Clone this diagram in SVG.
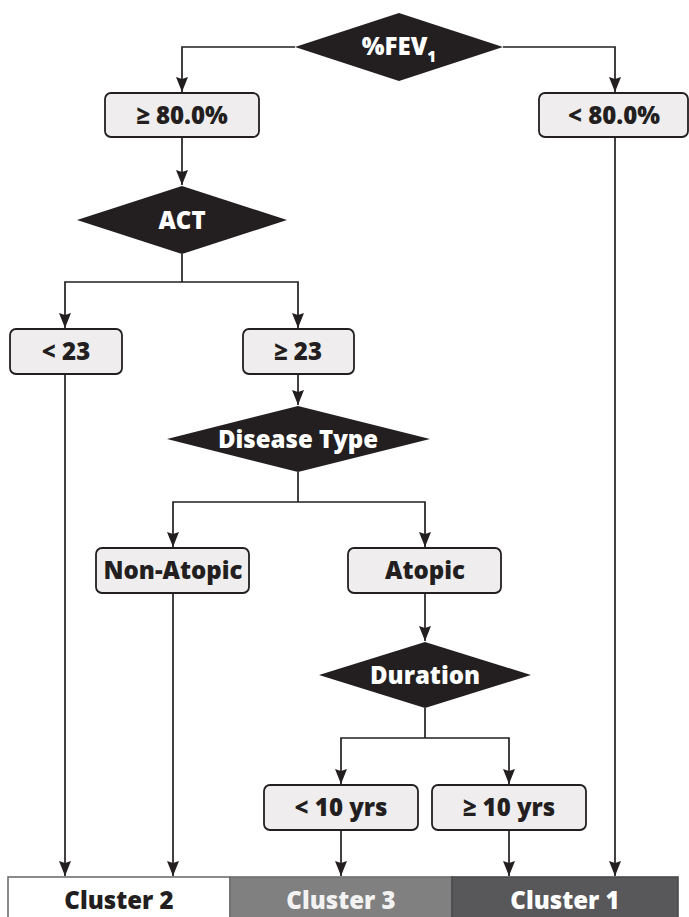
<svg xmlns="http://www.w3.org/2000/svg" width="689" height="917" viewBox="0 0 689 917">
<defs>
<marker id="arr" viewBox="0 0 12 15" refX="6" refY="15" markerWidth="12" markerHeight="15" markerUnits="userSpaceOnUse" orient="0">
<path d="M0,0 L6,2 L12,0 L6,15 Z" fill="#231f20"/>
</marker>
<style>
.dia{fill:#231f20}
.box{fill:#efedee;stroke:#231f20;stroke-width:1.8}
.lbl{font-family:"Open Sans","Noto Sans",sans-serif;font-weight:800;font-size:24px;text-anchor:middle;fill:#231f20}
.wl{fill:#ffffff}
.ln{fill:none;stroke:#231f20;stroke-width:1.7}
.ar{marker-end:url(#arr)}
</style>
</defs>
<g id="connectors">
<path class="ln ar" d="M295,47 H182 V92"/>
<path class="ln ar" d="M503,47 H615 V92"/>
<path class="ln ar" d="M182,137 V185"/>
<path class="ln" d="M182,254 V282"/>
<path class="ln ar" d="M182,282 H65 V328"/>
<path class="ln ar" d="M182,282 H298 V328"/>
<path class="ln ar" d="M298,374 V405"/>
<path class="ln" d="M298,472 V502"/>
<path class="ln ar" d="M298,502 H173 V547"/>
<path class="ln ar" d="M298,502 H425 V547"/>
<path class="ln ar" d="M425,593 V641"/>
<path class="ln" d="M425,708 V738"/>
<path class="ln ar" d="M425,738 H341 V784"/>
<path class="ln ar" d="M425,738 H509 V784"/>
<path class="ln ar" d="M341,830 V876"/>
<path class="ln ar" d="M509,830 V876"/>
<path class="ln ar" d="M65,374 V876"/>
<path class="ln ar" d="M173,593 V876"/>
<path class="ln ar" d="M615,137 V876"/>
</g>
<g id="fev1">
<polygon class="dia" points="295,47 399,13 503,47 399,81"/>
<text class="lbl wl" x="399" y="55">%FEV<tspan font-size="15" dy="7">1</tspan></text>
</g>
<g id="ge80">
<rect class="box" x="105" y="93" width="154" height="44" rx="6"/>
<text class="lbl" x="182" y="123.5">≥ 80.0%</text>
</g>
<g id="lt80">
<rect class="box" x="539" y="93" width="149" height="44" rx="6"/>
<text class="lbl" x="614" y="123.5">&lt; 80.0%</text>
</g>
<g id="act">
<polygon class="dia" points="77,220 182,186 287,220 182,254"/>
<text class="lbl wl" x="182" y="228.5">ACT</text>
</g>
<g id="lt23">
<rect class="box" x="10" y="329" width="112" height="45" rx="6"/>
<text class="lbl" x="66" y="360">&lt; 23</text>
</g>
<g id="ge23">
<rect class="box" x="243" y="329" width="111" height="45" rx="6"/>
<text class="lbl" x="298" y="360">≥ 23</text>
</g>
<g id="disease">
<polygon class="dia" points="167,439 298,406 430,439 298,472"/>
<text class="lbl wl" x="298" y="447.5">Disease Type</text>
</g>
<g id="nonatopic">
<rect class="box" x="96" y="548" width="153" height="45" rx="6"/>
<text class="lbl" x="173" y="579">Non-Atopic</text>
</g>
<g id="atopic">
<rect class="box" x="348" y="548" width="153" height="45" rx="6"/>
<text class="lbl" x="425" y="579">Atopic</text>
</g>
<g id="duration">
<polygon class="dia" points="319,675 425,642 531,675 425,708"/>
<text class="lbl wl" x="425" y="683.5">Duration</text>
</g>
<g id="lt10">
<rect class="box" x="264" y="785" width="154" height="45" rx="6"/>
<text class="lbl" x="341" y="816">&lt; 10 yrs</text>
</g>
<g id="ge10">
<rect class="box" x="432" y="785" width="154" height="45" rx="6"/>
<text class="lbl" x="509" y="816">≥ 10 yrs</text>
</g>
<g id="cluster2">
<rect x="8" y="877" width="222" height="42" fill="#ffffff" stroke="#6d6e70" stroke-width="1.6"/>
<text class="lbl" x="119" y="909">Cluster 2</text>
</g>
<g id="cluster3">
<rect x="230" y="877" width="222" height="42" fill="#808080" stroke="#6d6e70" stroke-width="1.6"/>
<text class="lbl" x="341" y="909" style="fill:#f2f2f2">Cluster 3</text>
</g>
<g id="cluster1">
<rect x="452" y="877" width="226" height="42" fill="#58585a" stroke="#4a4a4c" stroke-width="1.6"/>
<text class="lbl wl" x="565" y="909">Cluster 1</text>
</g>
</svg>
